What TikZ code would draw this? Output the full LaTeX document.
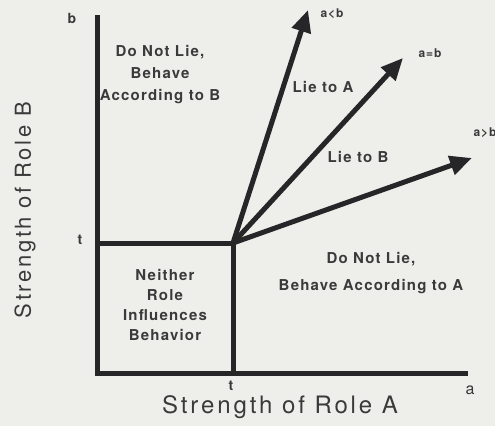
\documentclass[tikz,border=0pt]{standalone}
\usepackage{fontspec}
\setmainfont{TeX Gyre Heros}
\newfontfamily\titlefont[LetterSpace=12]{TeX Gyre Heros}
\newfontfamily\regionfont[LetterSpace=8]{TeX Gyre Heros}
\usetikzlibrary{arrows.meta}

\definecolor{paper}{RGB}{238,238,235}
\definecolor{ink}{RGB}{38,38,40}
\definecolor{lettering}{RGB}{58,58,58}

\begin{document}
\begin{tikzpicture}[x=1pt,y=-1pt,
	axis/.style={color=ink,line width=5pt,line join=miter},
	roleline/.style={color=ink,line width=5pt,-{Triangle[length=22pt,width=19pt]}},
	region/.style={align=center,text=lettering,font=\regionfont\bfseries\fontsize{15}{22}\selectfont},
	case/.style={text=lettering,inner sep=1pt,font=\regionfont\bfseries\fontsize{12}{14}\selectfont},
	tick/.style={text=lettering,inner sep=0pt,font=\bfseries\fontsize{14}{16}\selectfont},
	title/.style={text=lettering,inner sep=1pt,font=\titlefont\fontsize{24}{26}\selectfont}]
	\useasboundingbox (0,0) rectangle (495,426);
	\fill[paper] (0,0) rectangle (495,426);

	% The axes
	\coordinate (O) at (97,373);
	\coordinate (Bend) at (97,15);
	\coordinate (Aend) at (468,373);
	\draw[axis] (Bend) -- (O) -- (Aend);

	% The threshold t on both axes
	\coordinate (tB) at (97,243);
	\coordinate (tA) at (233,373);
	\coordinate (T) at (233,243);
	\draw[axis] (tB) -- (T) -- (tA);

	% The three cases
	\coordinate (less) at (308,10);
	\coordinate (equal) at (403,58);
	\coordinate (greater) at (472,158);
	\draw[roleline] (T) -- (less);
	\draw[roleline] (T) -- (equal);
	\draw[roleline] (T) -- (greater);

	\node[case] (lessLabel) at (332,14) {a<b};
	\node[case] (equalLabel) at (430,53) {a=b};
	\node[case] (greaterLabel) at (485,133) {a>b};

	% Axis letters
	\node[tick] (bLabel) at (72,18) {b};
	\node[tick] (tBLabel) at (80,240) {t};
	\node[tick] (tALabel) at (231,386) {t};
	\node[text=lettering,inner sep=0pt,font=\fontsize{16}{18}\selectfont] (aLabel) at (470,390) {a};

	% The regions
	\node[region] (behaveB) at (160,75) {Do Not Lie,\\Behave\\According to B};
	\node[region] (lieA) at (323,87) {Lie to A};
	\node[region] (lieB) at (358,157) {Lie to B};
	\node[region] (neither) at (165,305) {Neither\\[-2pt]Role\\[-2pt]Influences\\[-2pt]Behavior};
	\node[region] (behaveA) at (371,273) {Do Not Lie,\\[5pt]Behave According to A};

	% The titles
	\node[title] (titleA) at (280,407) {Strength of Role A};
	\node[title,rotate=90,font=\titlefont\fontsize{22}{24}\selectfont] (titleB) at (25,210) {Strength of Role B};
\end{tikzpicture}
\end{document}
